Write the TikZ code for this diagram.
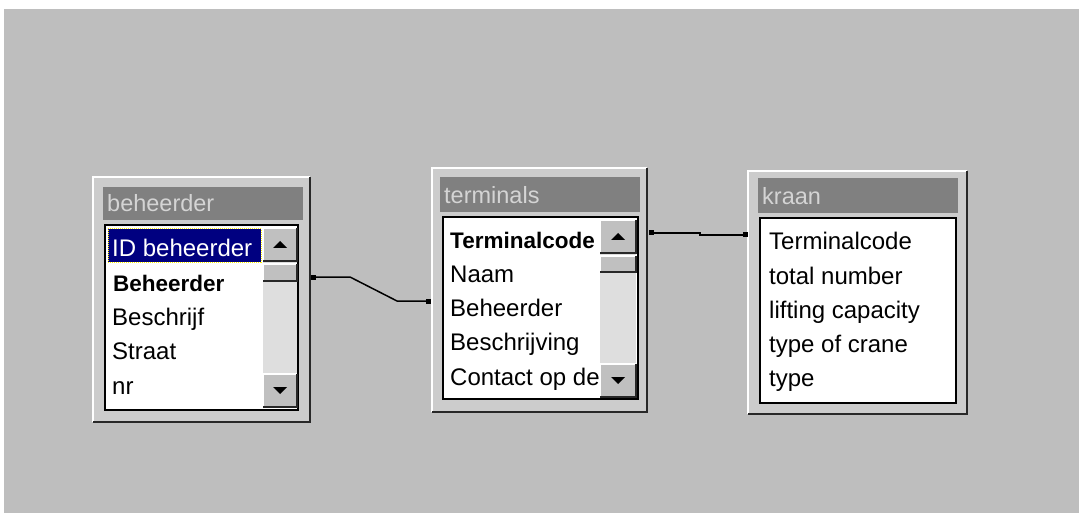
\documentclass[tikz,border=0pt]{standalone}
\usepackage{fontspec}
\setmainfont{Liberation Sans}
\usetikzlibrary{fit}

\definecolor{deskgray}{RGB}{190,190,190}
\definecolor{framegray}{RGB}{204,204,204}
\definecolor{captiongray}{RGB}{128,128,128}
\definecolor{captiontext}{RGB}{212,212,212}
\definecolor{selblue}{RGB}{0,0,128}
\definecolor{trackgray}{RGB}{222,222,222}
\definecolor{btngray}{RGB}{192,192,192}
\definecolor{darkedge}{RGB}{40,40,40}

\tikzset{
  winframe/.style={fill=framegray, inner sep=0pt, draw=none},
  lightedge/.style={draw=white, line width=2pt},
  darkline/.style={draw=darkedge, line width=2.5pt},
  caption/.style={fill=captiongray, inner sep=0pt, draw=none},
  captiontxt/.style={text=captiontext, font=\fontsize{23.5}{23.5}\selectfont, inner sep=0pt, anchor=base west},
  listbox/.style={fill=white, draw=black, line width=1.6pt, inner sep=0pt},
  field/.style={font=\fontsize{24}{24}\selectfont, inner sep=0pt, anchor=base west},
  keyfield/.style={font=\bfseries\fontsize{22.5}{22.5}\selectfont, inner sep=0pt, anchor=base west},
  selrow/.style={fill=selblue, draw=yellow, densely dotted, line width=1pt, inner sep=0pt},
  track/.style={fill=trackgray, inner sep=0pt, draw=none},
  button/.style={fill=btngray, inner sep=0pt, draw=none},
  port/.style={fill=black, rectangle, minimum size=5pt, inner sep=0pt},
  link/.style={draw=black, line width=1.5pt},
}

% window with a raised 3D frame
\newcommand\dbwindow[5]{% name, x0, y0, x1, y1
  \node[winframe, fit={(#2,#3)(#4,#5)}] (#1) {};
  \draw[lightedge] (#1.south west) -- (#1.north west) -- (#1.north east);
  \draw[darkline] (#1.north east) -- (#1.south east) -- (#1.south west);
}
% raised scroll-bar button
\newcommand\raisedbtn[5]{% name, x0, y0, x1, y1
  \node[button, fit={(#2,#3)(#4,#5)}] (#1) {};
  \draw[draw=white, line width=1.5pt] (#1.south west) -- (#1.north west) -- (#1.north east);
  \draw[draw=darkedge, line width=1.5pt] (#1.north east) -- (#1.south east) -- (#1.south west);
}
\newcommand\uparrowglyph[1]{%
  \fill ([shift={(-7,3.5)}]#1.center) -- ([shift={(7,3.5)}]#1.center) -- ([shift={(0,-3.5)}]#1.center) -- cycle;}
\newcommand\downarrowglyph[1]{%
  \fill ([shift={(-7,-3.5)}]#1.center) -- ([shift={(7,-3.5)}]#1.center) -- ([shift={(0,3.5)}]#1.center) -- cycle;}

\begin{document}
\begin{tikzpicture}[x=1pt, y=-1pt]
  \useasboundingbox (0,0) rectangle (1079,513);
  \fill[white] (0,0) rectangle (1079,513);
  \fill[deskgray] (4,9) rectangle (1079,513);

  % ---------------- beheerder ----------------
  \dbwindow{beh}{93}{177}{310}{422}
  \node[caption, fit={(103,187)(303,220)}] (behcap) {};
  \node[captiontxt] (behtitle) at (107,212) {beheerder};
  \node[listbox, fit={(105,225)(298,410)}] (behlist) {};
  \node[selrow, fit={(108,229)(261,262)}] (behsel) {};
  \node[field, text=white] (behf1) at (112,256) {ID beheerder};
  \node[keyfield] (behf2) at (113,291) {Beheerder};
  \node[field] (behf3) at (112,325) {Beschrijf};
  \node[field] (behf4) at (112,359) {Straat};
  \node[field] (behf5) at (112,394) {nr};
  \node[track, fit={(263,228)(297,407)}] (behtrack) {};
  \raisedbtn{behup}{263}{228}{297}{261}
  \raisedbtn{behthumb}{263}{264}{297}{281}
  \raisedbtn{behdown}{263}{374}{297}{407}
  \uparrowglyph{behup}
  \downarrowglyph{behdown}

  % ---------------- terminals ----------------
  \dbwindow{term}{432}{168}{647}{412}
  \node[caption, fit={(440,177)(640,212)}] (termcap) {};
  \node[captiontxt] (termtitle) at (444,204) {terminals};
  \node[listbox, fit={(443,217)(638,399)}] (termlist) {};
  \node[keyfield] (termf1) at (450,248) {Terminalcode};
  \node[field] (termf2) at (450,282) {Naam};
  \node[field] (termf3) at (450,316) {Beheerder};
  \node[field] (termf4) at (450,350) {Beschrijving};
  \node[field] (termf5) at (450,385) {Contact op de};
  \node[track, fit={(600,220)(636,397)}] (termtrack) {};
  \raisedbtn{termup}{600}{220}{636}{253}
  \raisedbtn{termthumb}{600}{256}{636}{272}
  \raisedbtn{termdown}{600}{364}{636}{397}
  \uparrowglyph{termup}
  \downarrowglyph{termdown}

  % ---------------- kraan ----------------
  \dbwindow{kraan}{748}{171}{967}{414}
  \node[caption, fit={(758,178)(958,213)}] (kraancap) {};
  \node[captiontxt] (kraantitle) at (762,205) {kraan};
  \node[listbox, fit={(760,218)(956,403)}] (kraanlist) {};
  \node[field] (kraanf1) at (769,249) {Terminalcode};
  \node[field] (kraanf2) at (769,284) {total number};
  \node[field] (kraanf3) at (769,318) {lifting capacity};
  \node[field] (kraanf4) at (769,352) {type of crane};
  \node[field] (kraanf5) at (769,386) {type};

  % ---------------- relationships ----------------
  \node[port] (behout) at (313,277) {};
  \node[port] (termin) at (428,301) {};
  \node[port] (termout) at (651,233) {};
  \node[port] (kraanin) at (745,235) {};
  \draw[link] (behout.center) -- ++(37,0) -- ([xshift=-31pt]termin.center) -- (termin.center);
  \draw[link] (termout.center) -- ++(49,0) -- ([xshift=-45pt]kraanin.center) -- (kraanin.center);
\end{tikzpicture}
\end{document}
